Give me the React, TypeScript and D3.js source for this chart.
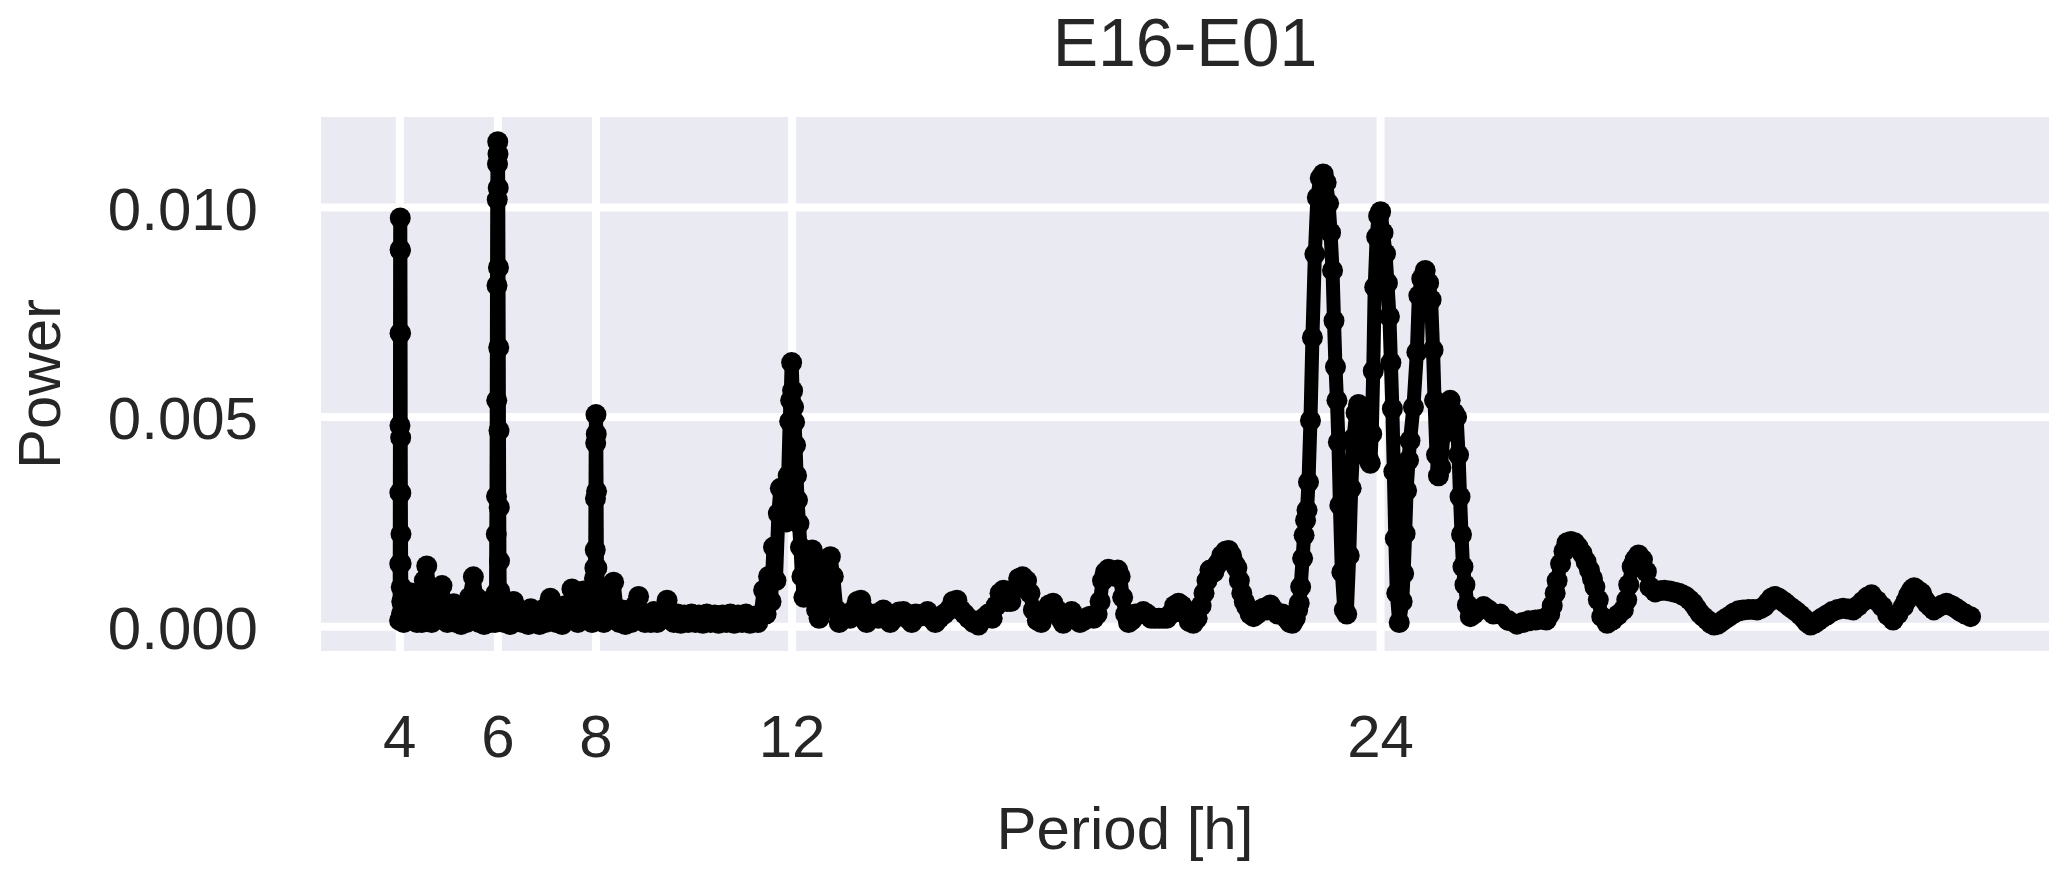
import React from 'react';
import * as d3 from 'd3';

// periodogram E16-E01
// each segment: [period in h, power]

const spike4: [number, number][] = [
  [3.996, 0.00015], [3.999, 0.0015], [4.001, 0.0032], [4.003, 0.0048], [4.005, 0.007],
  [4.007, 0.009], [4.009, 0.00975], [4.012, 0.00898], [4.015, 0.007], [4.018, 0.00451],
  [4.021, 0.00319], [4.024, 0.00221], [4.027, 0.00151], [4.03, 0.00094], [4.034, 0.0003],
];

const band4to6: [number, number][] = [
  [4.04, 0.0006], [4.08, 0.0001], [4.12, 0.0007], [4.16, 0.0002], [4.21, 0.00081], [4.26, 0.0003],
  [4.3, 0.0007], [4.35, 0.0001], [4.4, 0.0004], [4.45, 0.0001], [4.5, 0.0011], [4.55, 0.00145],
  [4.6, 0.0008], [4.65, 0.0001], [4.7, 0.0005], [4.75, 0.0002], [4.81, 0.0008], [4.86, 0.00098],
  [4.92, 0.0004], [4.97, 0.0001], [5.03, 0.0004], [5.1, 0.00055], [5.15, 0.0001], [5.2, 0.0003],
  [5.25, 0.00005], [5.3, 0.00038], [5.36, 0.0001], [5.42, 0.0007], [5.5, 0.00119], [5.56, 0.0007],
  [5.62, 0.0001], [5.67, 0.0004], [5.72, 0.00005], [5.78, 0.0006], [5.84, 0.0001], [5.9, 0.0004],
  [5.94, 0.0001],
];

const spike6: [number, number][] = [
  [5.962, 0.0008], [5.967, 0.00221], [5.972, 0.00311], [5.977, 0.0054], [5.982, 0.00814],
  [5.987, 0.01019], [5.992, 0.01104], [5.997, 0.01157], [6.002, 0.01128], [6.007, 0.01047],
  [6.012, 0.00857], [6.017, 0.00666], [6.022, 0.00468], [6.027, 0.00285], [6.032, 0.00157],
  [6.037, 0.00085], [6.042, 0.0002],
];

const band6to8: [number, number][] = [
  [6.08, 0.0006], [6.13, 0.0001], [6.19, 0.0005], [6.25, 0.00005], [6.32, 0.0006], [6.38, 0.0002],
  [6.44, 0.0004], [6.5, 0.0001], [6.56, 0.0003], [6.62, 0.00005], [6.67, 0.00043], [6.73, 0.0001],
  [6.79, 0.0003], [6.85, 0.00005], [6.91, 0.0004], [6.97, 0.0001], [7.02, 0.0005], [7.07, 0.00068],
  [7.13, 0.0002], [7.19, 0.0001], [7.25, 0.0004], [7.31, 0.00005], [7.37, 0.0005], [7.44, 0.0002],
  [7.51, 0.0009], [7.57, 0.0003], [7.63, 0.0001], [7.69, 0.0006], [7.75, 0.00085], [7.81, 0.0002],
  [7.87, 0.0006], [7.92, 0.0001],
];

const spike8: [number, number][] = [
  [7.96, 0.0006], [7.97, 0.00115], [7.978, 0.0014], [7.985, 0.00183], [7.99, 0.00306],
  [7.995, 0.00438], [8.0, 0.00506], [8.006, 0.0046], [8.012, 0.00323], [8.019, 0.0014],
  [8.027, 0.0007], [8.036, 0.0002],
];

const band8to12: [number, number][] = [
  [8.1, 0.0008], [8.16, 0.0001], [8.22, 0.0006], [8.28, 0.0002], [8.36, 0.00106], [8.42, 0.0004],
  [8.48, 0.0001], [8.54, 0.0004], [8.6, 0.00005], [8.66, 0.0003], [8.72, 0.0001], [8.8, 0.0005],
  [8.87, 0.00072], [8.93, 0.0002], [9.0, 0.0001], [9.06, 0.0003], [9.12, 0.0001], [9.18, 0.00036],
  [9.25, 0.0001], [9.32, 0.0003], [9.39, 0.0004], [9.45, 0.00063], [9.52, 0.0002], [9.59, 0.0001],
  [9.66, 0.0003], [9.73, 0.00008], [9.8, 0.00028], [9.88, 0.0001], [9.95, 0.0003], [10.03, 0.0001],
  [10.1, 0.00028], [10.18, 0.00008], [10.26, 0.0003], [10.34, 0.0001], [10.42, 0.00028], [10.5, 0.00008],
  [10.58, 0.00028], [10.66, 0.0001], [10.74, 0.0003], [10.82, 0.00008], [10.9, 0.00028], [10.98, 0.0001],
  [11.06, 0.0003], [11.14, 0.00008], [11.22, 0.00025], [11.3, 0.0001], [11.36, 0.0003],
];

const cluster12: [number, number][] = [
  [11.42, 0.00087], [11.47, 0.0003], [11.52, 0.0012], [11.57, 0.0006], [11.62, 0.0019], [11.67, 0.0011],
  [11.72, 0.0027], [11.76, 0.0033], [11.8, 0.0026], [11.84, 0.0033], [11.88, 0.0025], [11.92, 0.0036],
  [11.95, 0.0049], [11.97, 0.0054], [11.99, 0.0063], [12.01, 0.00563], [12.03, 0.00524], [12.05, 0.00488],
  [12.07, 0.00433], [12.09, 0.00361], [12.11, 0.00302], [12.14, 0.00246], [12.17, 0.0019], [12.2, 0.0012],
  [12.24, 0.0007],
];

const midRange: [number, number][] = [
  [12.28, 0.0008], [12.33, 0.0013], [12.37, 0.0018], [12.41, 0.00183], [12.45, 0.0011], [12.5, 0.0004],
  [12.55, 0.0002], [12.6, 0.0005], [12.66, 0.0012], [12.72, 0.0016], [12.78, 0.00167], [12.84, 0.0012],
  [12.9, 0.0004], [12.96, 0.0001], [13.02, 0.0002], [13.1, 0.0003], [13.18, 0.0002], [13.26, 0.0004],
  [13.33, 0.0006], [13.4, 0.00063], [13.46, 0.0004], [13.52, 0.0001], [13.6, 0.0002], [13.68, 0.0003],
  [13.76, 0.0002], [13.86, 0.0004], [13.94, 0.0003], [14.0, 0.0001], [14.08, 0.0002], [14.18, 0.00035],
  [14.27, 0.00036], [14.35, 0.0002], [14.44, 0.0001], [14.52, 0.0003], [14.6, 0.00025], [14.68, 0.0003],
  [14.76, 0.00036], [14.84, 0.0002], [14.92, 0.0001], [15.0, 0.0002], [15.1, 0.0003], [15.2, 0.0004],
  [15.28, 0.0006], [15.36, 0.00063], [15.44, 0.0004], [15.52, 0.0003], [15.6, 0.0002], [15.7, 0.0001],
  [15.8, 0.00004], [15.9, 0.0002], [16.0, 0.0003], [16.08, 0.0002], [16.16, 0.0005], [16.24, 0.0008],
  [16.31, 0.00087], [16.38, 0.0006], [16.46, 0.0006], [16.54, 0.0009], [16.62, 0.00115], [16.7, 0.00119],
  [16.78, 0.0011], [16.85, 0.0008], [16.92, 0.0004], [17.0, 0.00015], [17.08, 0.0001], [17.16, 0.0003],
  [17.24, 0.00052], [17.32, 0.00056], [17.4, 0.0004], [17.47, 0.0002], [17.53, 0.00008], [17.6, 0.0002],
  [17.7, 0.00036], [17.78, 0.0002], [17.87, 0.0001], [17.95, 0.00015], [18.02, 0.00022], [18.08, 0.00025],
  [18.15, 0.0002], [18.22, 0.0003], [18.28, 0.0006], [18.33, 0.0011], [18.39, 0.0013], [18.45, 0.00137],
  [18.52, 0.0013], [18.58, 0.0012], [18.64, 0.00135], [18.69, 0.0012], [18.74, 0.0007], [18.8, 0.0003],
  [18.86, 0.0001], [18.92, 0.00015], [19.0, 0.0003], [19.08, 0.0003], [19.16, 0.00036], [19.24, 0.0003],
  [19.32, 0.0002], [19.4, 0.0002], [19.48, 0.0002], [19.56, 0.0002], [19.64, 0.0002], [19.72, 0.0003],
  [19.8, 0.0005], [19.88, 0.00056], [19.95, 0.0005], [20.02, 0.0003], [20.1, 0.00012], [20.18, 0.00008],
  [20.26, 0.0002], [20.34, 0.0005], [20.4, 0.0008], [20.46, 0.0011], [20.52, 0.00135], [20.6, 0.0013],
  [20.68, 0.0015], [20.76, 0.0017], [20.84, 0.0018], [20.9, 0.00182], [20.96, 0.0017], [21.02, 0.0015],
  [21.07, 0.0014], [21.12, 0.0011], [21.17, 0.0008], [21.22, 0.0006], [21.27, 0.00048], [21.34, 0.0003],
  [21.41, 0.00024], [21.48, 0.0003], [21.55, 0.0004], [21.61, 0.00044], [21.68, 0.0004], [21.75, 0.00052],
  [21.82, 0.0004], [21.9, 0.0003], [22.0, 0.0003], [22.08, 0.0002], [22.15, 0.0001], [22.2, 0.00008],
  [22.26, 0.0002], [22.31, 0.0004],
];

const peaks24: [number, number][] = [
  [22.34, 0.00056], [22.37, 0.00095], [22.41, 0.00163], [22.44, 0.00218], [22.47, 0.00254], [22.5, 0.00278],
  [22.53, 0.00345], [22.57, 0.00492], [22.61, 0.0069], [22.66, 0.00889], [22.71, 0.01024], [22.77, 0.0107],
  [22.83, 0.0108], [22.89, 0.0106], [22.94, 0.0101], [22.98, 0.0094], [23.02, 0.0085], [23.05, 0.0073],
  [23.08, 0.0062], [23.11, 0.0054], [23.14, 0.0044], [23.17, 0.0029], [23.21, 0.0013], [23.26, 0.0004],
  [23.31, 0.0003], [23.36, 0.0017], [23.4, 0.0033], [23.45, 0.0045], [23.5, 0.0051], [23.55, 0.0053],
  [23.6, 0.005], [23.65, 0.0045], [23.7, 0.0042], [23.75, 0.004], [23.79, 0.0039], [23.82, 0.0046],
  [23.85, 0.0061], [23.88, 0.0081], [23.92, 0.0093], [23.96, 0.0098], [24.0, 0.0099], [24.05, 0.0094],
  [24.1, 0.0089], [24.14, 0.0082], [24.18, 0.0074], [24.21, 0.0063], [24.24, 0.0052], [24.27, 0.0037],
  [24.3, 0.0021], [24.33, 0.0008], [24.38, 0.0001], [24.44, 0.0006], [24.47, 0.00127], [24.5, 0.00222],
  [24.53, 0.00325], [24.57, 0.00397], [24.6, 0.00444], [24.67, 0.00524], [24.74, 0.00655], [24.78, 0.0079],
  [24.84, 0.0083], [24.91, 0.0085], [24.98, 0.0082], [25.03, 0.0078], [25.07, 0.0066], [25.1, 0.0054],
  [25.14, 0.0041], [25.18, 0.0036], [25.23, 0.0038], [25.28, 0.0046], [25.34, 0.0053], [25.42, 0.0054],
  [25.5, 0.0051], [25.55, 0.005], [25.59, 0.0041], [25.62, 0.0031], [25.65, 0.0022], [25.68, 0.00143],
  [25.72, 0.001], [25.77, 0.00052], [25.83, 0.00024],
];

const tail: [number, number][] = [
  [25.9, 0.0003], [26.0, 0.0004], [26.1, 0.00048], [26.2, 0.0004], [26.3, 0.0003], [26.44, 0.0003],
  [26.6, 0.00015], [26.78, 0.00006], [26.9, 0.0001], [27.02, 0.00014], [27.16, 0.00016], [27.28, 0.00018],
  [27.38, 0.00016], [27.45, 0.0003], [27.5, 0.0005], [27.56, 0.0008], [27.6, 0.0011], [27.67, 0.0015],
  [27.74, 0.0018], [27.8, 0.002], [27.88, 0.00203], [27.96, 0.002], [28.03, 0.0019], [28.11, 0.00175],
  [28.19, 0.00155], [28.26, 0.00135], [28.32, 0.00115], [28.37, 0.00095], [28.44, 0.00064], [28.51, 0.00024],
  [28.62, 0.00008], [28.73, 0.00016], [28.84, 0.00028], [28.95, 0.0004], [29.02, 0.00064], [29.06, 0.001],
  [29.13, 0.00143], [29.19, 0.0016], [29.26, 0.00171], [29.34, 0.0016], [29.42, 0.00131], [29.49, 0.00095],
  [29.6, 0.00083], [29.7, 0.00086], [29.79, 0.00087], [29.9, 0.00085], [30.0, 0.00082], [30.08, 0.0008],
  [30.15, 0.00076], [30.22, 0.00072], [30.3, 0.00064], [30.37, 0.00056], [30.44, 0.00044], [30.51, 0.00032],
  [30.58, 0.00024], [30.66, 0.00016], [30.73, 0.00008], [30.8, 0.00004], [30.88, 0.00006], [30.95, 0.00012],
  [31.02, 0.00018], [31.1, 0.00024], [31.2, 0.00032], [31.3, 0.00038], [31.39, 0.0004], [31.5, 0.00041],
  [31.6, 0.00041], [31.68, 0.0004], [31.75, 0.00043], [31.82, 0.00048], [31.9, 0.00058], [31.97, 0.00068],
  [32.04, 0.00072], [32.12, 0.00068], [32.19, 0.00062], [32.26, 0.00056], [32.34, 0.00048], [32.41, 0.00042],
  [32.48, 0.00036], [32.56, 0.00028], [32.63, 0.0002], [32.7, 0.0001], [32.77, 0.00004], [32.85, 0.00008],
  [32.92, 0.00014], [32.99, 0.0002], [33.1, 0.00028], [33.21, 0.00036], [33.32, 0.00041], [33.43, 0.00044],
  [33.54, 0.00042], [33.64, 0.0004], [33.74, 0.0005], [33.83, 0.0006], [33.92, 0.0007], [34.01, 0.00076],
  [34.12, 0.00062], [34.23, 0.00048], [34.34, 0.00028], [34.45, 0.00016], [34.55, 0.0003], [34.66, 0.00048],
  [34.72, 0.00062], [34.77, 0.00076], [34.83, 0.00088], [34.88, 0.00093], [34.96, 0.00086], [35.03, 0.0008],
  [35.08, 0.00066], [35.14, 0.00056], [35.21, 0.00048], [35.28, 0.0004], [35.36, 0.00046], [35.45, 0.00052],
  [35.54, 0.00056], [35.61, 0.00052], [35.68, 0.00048], [35.76, 0.00042], [35.83, 0.00036], [35.92, 0.0003],
  [36.03, 0.00024],
];

const xTicks = [4, 6, 8, 12, 24];
const yTicks = [0, 0.005, 0.01];
const title = 'E16-E01';
const xLabel = 'Period [h]';
const yLabel = 'Power';

// axis limits as matplotlib autoscaled them
const xDomain: [number, number] = [2.393, 37.63];
const yDomain: [number, number] = [-0.00058, 0.01216];

const W = 2067;
const H = 880;
const box = { left: 321, right: 2049, top: 117, bottom: 651 };
const font = '"Liberation Sans", Arial, sans-serif';
const ink = '#262626';

export default function App() {
  const x = d3.scaleLinear().domain(xDomain).range([box.left, box.right]);
  const y = d3.scaleLinear().domain(yDomain).range([box.bottom, box.top]);
  const fmt = d3.format('.3f');

  const series = [
    ...spike4, ...band4to6, ...spike6, ...band6to8, ...spike8,
    ...band8to12, ...cluster12, ...midRange, ...peaks24, ...tail,
  ];

  const line = d3.line<[number, number]>()
    .x(d => x(d[0]))
    .y(d => y(d[1]));

  return (
    <svg width={W} height={H} style={{ position: 'absolute', left: 0, top: 0, background: '#fff' }}>
      <rect x={box.left} y={box.top} width={box.right - box.left} height={box.bottom - box.top} fill="#EAEAF2" />

      {/* grid */}
      {xTicks.map(t => (
        <line key={'gx' + t} x1={x(t)} x2={x(t)} y1={box.top} y2={box.bottom} stroke="#fff" strokeWidth={8} />
      ))}
      {yTicks.map(t => (
        <line key={'gy' + t} x1={box.left} x2={box.right} y1={y(t)} y2={y(t)} stroke="#fff" strokeWidth={8} />
      ))}

      {/* data */}
      <path d={line(series) ?? ''} fill="none" stroke="#000" strokeWidth={14} strokeLinejoin="round" strokeLinecap="round" />
      {series.map((d, i) => (
        <circle key={i} cx={x(d[0])} cy={y(d[1])} r={10.5} fill="#000" />
      ))}

      {/* tick labels */}
      {xTicks.map(t => (
        <text key={'tx' + t} x={x(t)} y={757} textAnchor="middle" fontFamily={font} fontSize={60} fill={ink}>{t}</text>
      ))}
      {yTicks.map(t => (
        <text key={'ty' + t} x={258} y={y(t) + 22} textAnchor="end" fontFamily={font} fontSize={60} fill={ink}>{fmt(t)}</text>
      ))}

      {/* labels */}
      <text x={1185} y={66} textAnchor="middle" fontFamily={font} fontSize={68} fill={ink}>{title}</text>
      <text x={1125} y={849} textAnchor="middle" fontFamily={font} fontSize={60} fill={ink}>{xLabel}</text>
      <text transform={`translate(60,${(box.top + box.bottom) / 2}) rotate(-90)`} textAnchor="middle" fontFamily={font} fontSize={60} fill={ink}>{yLabel}</text>
    </svg>
  );
}
